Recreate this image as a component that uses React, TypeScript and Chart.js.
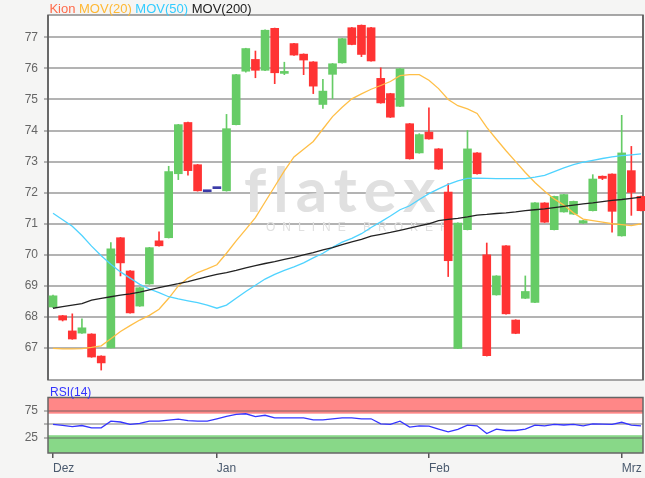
import React, { useEffect, useRef } from 'react';
import { Chart, registerables } from 'chart.js';

Chart.register(...registerables);

// ---- data ----
const opens = [68.32, 68.04, 67.55, 67.48, 67.45, 66.74, 67.0, 70.55, 69.48, 68.35, 69.06, 70.45, 70.55, 72.61, 74.26, 72.9, 72.03, 72.13, 72.06, 74.19, 75.91, 76.29, 75.94, 77.29, 75.84, 76.8, 76.46, 76.21, 74.84, 75.81, 76.18, 77.31, 77.39, 77.31, 75.68, 75.19, 74.78, 74.22, 73.28, 73.95, 73.41, 72.02, 66.99, 70.81, 73.28, 70.0, 68.71, 70.29, 67.9, 68.6, 68.47, 71.67, 70.81, 71.38, 71.31, 71.02, 71.42, 72.53, 72.6, 70.61, 72.71, 71.88];
const highs = [68.7, 68.05, 68.1, 67.94, 67.46, 66.75, 70.39, 70.56, 69.49, 68.95, 70.24, 70.74, 72.85, 74.2, 74.27, 72.91, 72.03, 72.13, 74.52, 75.81, 76.65, 76.56, 77.24, 77.3, 76.2, 76.81, 76.47, 76.22, 75.65, 76.16, 76.97, 77.32, 77.4, 77.32, 76.02, 75.2, 76.0, 74.23, 73.9, 74.73, 73.42, 72.29, 71.03, 74.0, 73.29, 70.38, 69.33, 70.3, 67.91, 69.32, 71.68, 71.68, 71.89, 71.95, 71.73, 71.11, 72.58, 72.54, 72.61, 74.49, 73.49, 71.89];
const lows = [68.3, 67.87, 67.28, 67.47, 66.7, 66.29, 67.0, 69.32, 68.12, 68.34, 69.05, 70.28, 70.54, 72.42, 72.56, 72.05, 72.03, 72.13, 72.05, 74.18, 75.88, 75.7, 75.93, 75.51, 75.8, 76.42, 75.8, 75.19, 74.71, 75.03, 76.17, 76.76, 76.38, 76.23, 74.88, 74.42, 74.77, 73.08, 73.27, 73.72, 72.75, 69.3, 66.98, 70.8, 72.6, 66.74, 68.7, 68.09, 67.46, 68.59, 68.46, 71.04, 70.8, 71.37, 71.3, 71.01, 71.41, 72.42, 70.73, 70.6, 71.27, 71.41];
const closes = [68.68, 67.9, 67.29, 67.65, 66.71, 66.52, 70.19, 69.74, 68.13, 68.94, 70.23, 70.29, 72.68, 74.19, 72.71, 72.06, 72.03, 72.13, 74.06, 75.8, 76.64, 75.94, 77.23, 75.86, 75.88, 76.43, 76.27, 75.43, 75.27, 76.15, 76.96, 76.77, 76.45, 76.24, 74.89, 74.43, 75.99, 73.09, 73.87, 73.73, 72.76, 69.81, 71.02, 73.41, 72.61, 66.75, 69.32, 68.1, 67.47, 68.82, 71.67, 71.05, 71.88, 71.94, 71.72, 71.1, 72.44, 72.46, 71.4, 73.28, 72.01, 71.42];

const mov20 = [66.99, 66.97, 66.97, 66.98, 67.02, 67.07, 67.3, 67.53, 67.72, 67.9, 68.05, 68.25, 68.6, 69.0, 69.25, 69.43, 69.55, 69.68, 70.05, 70.45, 70.82, 71.2, 71.7, 72.2, 72.7, 73.15, 73.4, 73.65, 74.05, 74.45, 74.75, 75.02, 75.18, 75.33, 75.45, 75.58, 75.77, 75.8, 75.8, 75.62, 75.35, 75.0, 74.8, 74.7, 74.55, 74.1, 73.72, 73.35, 73.0, 72.65, 72.33, 72.05, 71.8, 71.6, 71.35, 71.15, 71.1, 71.05, 71.0, 70.97, 70.94, 71.0];
const mov50 = [71.34, 71.13, 70.92, 70.62, 70.28, 69.97, 69.7, 69.45, 69.25, 69.05, 68.9, 68.78, 68.65, 68.58, 68.52, 68.46, 68.38, 68.28, 68.38, 68.6, 68.82, 69.02, 69.22, 69.37, 69.5, 69.61, 69.74, 69.9, 70.05, 70.24, 70.41, 70.53, 70.68, 70.88, 71.06, 71.25, 71.45, 71.58, 71.78, 71.97, 72.12, 72.27, 72.38, 72.46, 72.47, 72.46, 72.45, 72.45, 72.45, 72.45, 72.5, 72.56, 72.68, 72.8, 72.9, 72.98, 73.04, 73.1, 73.15, 73.19, 73.22, 73.25];
const mov200 = [68.28, 68.33, 68.38, 68.43, 68.54, 68.6, 68.65, 68.7, 68.74, 68.8, 68.87, 68.94, 69.01, 69.07, 69.14, 69.22, 69.3, 69.37, 69.43, 69.5, 69.58, 69.65, 69.72, 69.78, 69.85, 69.92, 70.0, 70.07, 70.16, 70.23, 70.33, 70.42, 70.5, 70.6, 70.66, 70.72, 70.79, 70.86, 70.93, 71.0, 71.1, 71.14, 71.17, 71.22, 71.28, 71.3, 71.33, 71.35, 71.38, 71.42, 71.45, 71.48, 71.52, 71.56, 71.6, 71.64, 71.67, 71.71, 71.75, 71.78, 71.82, 71.86];
const rsi14 = [50, 48.2, 46, 48, 43.7, 43.7, 56, 54.5, 50, 52, 56, 56, 58, 60, 57, 56, 56, 60.5, 65, 68.5, 69.8, 64.5, 67, 62.3, 62.3, 62.3, 62.3, 58.6, 58.6, 60.5, 62.3, 62.3, 60.5, 60.5, 51, 50, 56, 45, 47.4, 46.8, 41.5, 36.2, 40.7, 48.7, 47.4, 33.2, 41.2, 38.8, 38.8, 41.2, 48.7, 47.4, 50, 49, 50, 47.4, 51.2, 50.5, 50, 54, 48.7, 47.4];

const priceTicks = [67, 68, 69, 70, 71, 72, 73, 74, 75, 76, 77];
const rsiTicks = [25, 50, 75];
const monthLabels = ['Dez', 'Jan', 'Feb', 'Mrz'];
const monthTickIndex = [0, 17, 39, 59];
const legendItems = ['Kion', 'MOV(20)', 'MOV(50)', 'MOV(200)'];

// ---- styling ----
const FONT = '"Liberation Sans", Arial, sans-serif';
const GREEN = '#66cc66';
const RED = '#ff3333';
const BLUE = '#3b3ba8';
const C20 = '#ffbf47';
const C50 = '#4fd3ff';
const C200 = '#222222';
const legendColors = ['#ff6a4a', '#ffb833', '#33ccff', '#222222'];
const X_MIN = -0.52;
const X_MAX = 61.21;

const idx = opens.map((_, i) => i);
const candleColor = idx.map((i) =>
  closes[i] > opens[i] ? GREEN : closes[i] < opens[i] ? RED : BLUE
);

export default function App() {
  const mainRef = useRef<HTMLCanvasElement | null>(null);
  const rsiRef = useRef<HTMLCanvasElement | null>(null);

  useEffect(() => {
    Chart.defaults.font.family = FONT;

    const mainPlugin = {
      id: 'mainDeco',
      beforeDraw(chart: any) {
        const { ctx, chartArea: a } = chart;
        ctx.save();
        ctx.fillStyle = '#ffffff';
        ctx.fillRect(a.left, a.top, a.right - a.left, a.bottom - a.top);
        ctx.restore();
      },
      beforeDatasetsDraw(chart: any) {
        const { ctx, chartArea: a } = chart;
        ctx.save();
        // watermark
        ctx.fillStyle = '#e0e0e0';
        ctx.textBaseline = 'alphabetic';
        ctx.font = 'bold 62px Lato, "Liberation Sans", sans-serif';
        try { (ctx as any).letterSpacing = '7px'; } catch (e) {}
        ctx.fillText('flatex', 244, 212);
        ctx.font = `12px ${FONT}`;
        try { (ctx as any).letterSpacing = '7px'; } catch (e) {}
        ctx.fillText('ONLINE BROKER', 266, 231);
        try { (ctx as any).letterSpacing = '0px'; } catch (e) {}
        // border
        ctx.strokeStyle = '#8a8a8a';
        ctx.lineWidth = 1.5;
        ctx.strokeRect(a.left, a.top, a.right - a.left, a.bottom - a.top);
        ctx.strokeStyle = '#555';
        ctx.lineWidth = 1.5;
        ctx.beginPath();
        ctx.moveTo(a.left, a.top);
        ctx.lineTo(a.left, a.bottom);
        ctx.moveTo(a.right, a.top);
        ctx.lineTo(a.right, a.bottom);
        ctx.stroke();
        ctx.restore();
      },
      afterDraw(chart: any) {
        const { ctx } = chart;
        ctx.save();
        ctx.font = `13px ${FONT}`;
        ctx.textBaseline = 'alphabetic';
        let x = 49.4;
        legendItems.forEach((t, i) => {
          ctx.fillStyle = legendColors[i];
          ctx.fillText(t, x, 12.5);
          x += ctx.measureText(t + ' ').width;
        });
        ctx.restore();
      },
    };

    const main = new Chart(mainRef.current as HTMLCanvasElement, {
      type: 'bar',
      data: {
        datasets: [
          {
            type: 'line',
            data: idx.map((i) => ({ x: i, y: mov200[i] })),
            borderColor: C200,
            borderWidth: 1.3,
            pointRadius: 0,
            order: 0,
          } as any,
          {
            type: 'line',
            data: idx.map((i) => ({ x: i, y: mov50[i] })),
            borderColor: C50,
            borderWidth: 1.3,
            pointRadius: 0,
            order: 0,
          } as any,
          {
            type: 'line',
            data: idx.map((i) => ({ x: i, y: mov20[i] })),
            borderColor: C20,
            borderWidth: 1.3,
            pointRadius: 0,
            order: 0,
          } as any,
          {
            type: 'bar',
            data: idx.map((i) => ({ x: i, y: [opens[i], closes[i]] })),
            backgroundColor: candleColor,
            barThickness: 8,
            minBarLength: 2,
            grouped: false,
            clip: false,
            order: 2,
          } as any,
          {
            type: 'bar',
            data: idx.map((i) => ({ x: i, y: [lows[i], highs[i]] })),
            backgroundColor: candleColor,
            barThickness: 1,
            grouped: false,
            clip: false,
            order: 3,
          } as any,
        ],
      },
      options: {
        responsive: false,
        animation: false,
        events: [],
        layout: { padding: { left: 0, right: 2, top: 15, bottom: 15 } },
        plugins: { legend: { display: false }, tooltip: { enabled: false } },
        scales: {
          x: { type: 'linear', min: X_MIN, max: X_MAX, offset: false, display: false },
          y: {
            type: 'linear',
            min: 65.97,
            max: 77.72,
            afterFit: (s: any) => { s.width = 48; },
            afterBuildTicks: (s: any) => { s.ticks = priceTicks.map((v) => ({ value: v })); },
            ticks: { color: '#666', font: { size: 12, family: FONT }, padding: 6 },
            grid: { color: '#b3b3b3', lineWidth: 2, tickLength: 4, drawTicks: true },
            border: { display: false },
          },
        },
      } as any,
      plugins: [mainPlugin],
    });

    const rsiPlugin = {
      id: 'rsiDeco',
      beforeDraw(chart: any) {
        const { ctx, chartArea: a, scales } = chart;
        const y = scales.y;
        ctx.save();
        ctx.fillStyle = '#ffffff';
        ctx.fillRect(a.left, a.top, a.right - a.left, a.bottom - a.top);
        ctx.fillStyle = '#ff8787';
        ctx.fillRect(a.left, y.getPixelForValue(100), a.right - a.left, y.getPixelForValue(70) - y.getPixelForValue(100));
        ctx.fillStyle = '#88d888';
        ctx.fillRect(a.left, y.getPixelForValue(30), a.right - a.left, a.bottom - y.getPixelForValue(30));
        ctx.restore();
      },
      beforeDatasetsDraw(chart: any) {
        const { ctx, chartArea: a } = chart;
        ctx.save();
        ctx.strokeStyle = '#666';
        ctx.lineWidth = 1.5;
        ctx.strokeRect(a.left, a.top, a.right - a.left, a.bottom - a.top);
        ctx.restore();
      },
      afterDraw(chart: any) {
        const { ctx } = chart;
        ctx.save();
        ctx.font = `12px ${FONT}`;
        ctx.fillStyle = '#3333ff';
        ctx.textBaseline = 'alphabetic';
        ctx.fillText('RSI(14)', 50, 15.5);
        ctx.restore();
      },
    };

    const rsi = new Chart(rsiRef.current as HTMLCanvasElement, {
      type: 'line',
      data: {
        datasets: [
          {
            data: idx.map((i) => ({ x: i, y: rsi14[i] })),
            borderColor: '#3535ff',
            borderWidth: 1.3,
            pointRadius: 0,
          },
        ],
      },
      options: {
        responsive: false,
        animation: false,
        events: [],
        layout: { padding: { left: 0, right: 2, top: 17.5, bottom: 0 } },
        plugins: { legend: { display: false }, tooltip: { enabled: false } },
        scales: {
          x: {
            type: 'linear',
            min: X_MIN,
            max: X_MAX,
            offset: false,
            afterFit: (s: any) => { s.height = 25; },
            afterBuildTicks: (s: any) => { s.ticks = monthTickIndex.map((v) => ({ value: v })); },
            ticks: {
              callback: (v: any) => monthLabels[monthTickIndex.indexOf(Number(v))] ?? '',
              align: 'start',
              maxRotation: 0,
              minRotation: 0,
              autoSkip: false,
              color: '#4a5a6e',
              font: { size: 12, family: FONT },
              padding: 3,
            },
            grid: { drawOnChartArea: false, tickLength: 5, color: '#555', lineWidth: 1.5 },
            border: { display: false },
          },
          y: {
            type: 'linear',
            min: -3,
            max: 100,
            afterFit: (s: any) => { s.width = 48; },
            afterBuildTicks: (s: any) => { s.ticks = rsiTicks.map((v) => ({ value: v })); },
            ticks: {
              callback: (v: any) => (Number(v) === 50 ? '' : String(v)),
              color: '#666',
              font: { size: 12, family: FONT },
              padding: 6,
            },
            grid: { color: 'rgba(90,90,90,0.4)', lineWidth: 2, tickLength: 4 },
            border: { display: false },
          },
        },
      } as any,
      plugins: [rsiPlugin],
    });

    return () => {
      main.destroy();
      rsi.destroy();
    };
  }, []);

  return (
    <div
      style={{
        position: 'fixed',
        left: 0,
        top: 0,
        width: 645,
        height: 478,
        background: '#f5f5f4',
        overflow: 'hidden',
      }}
    >
      <canvas
        ref={mainRef}
        width={645}
        height={395}
        style={{ position: 'absolute', left: 0, top: 0, width: 645, height: 395 }}
      />
      <canvas
        ref={rsiRef}
        width={645}
        height={98}
        style={{ position: 'absolute', left: 0, top: 380, width: 645, height: 98 }}
      />
    </div>
  );
}
